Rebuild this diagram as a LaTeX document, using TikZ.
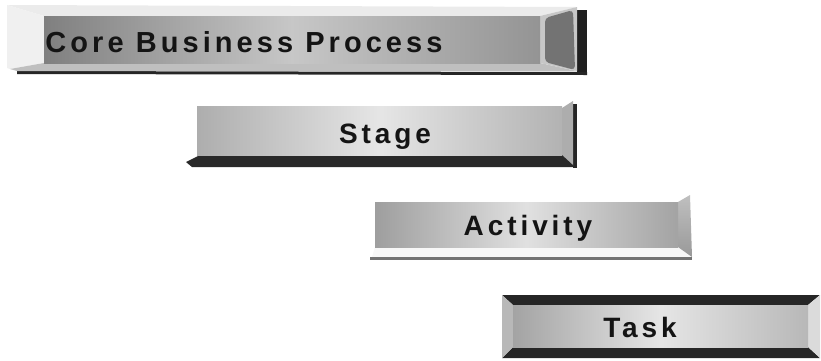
\documentclass[tikz,border=0pt]{standalone}
\usepackage{fontspec}
\newfontfamily\labelfont{Liberation Sans}[LetterSpace=14]
\begin{document}
\begin{tikzpicture}[x=1pt,y=-1pt,
  label/.style={anchor=base,inner sep=0pt,text=black!92,
    font=\labelfont\bfseries\fontsize{28}{30}\selectfont},
  face/.style={draw=none}]
\useasboundingbox (0,0) rectangle (821,360);

% ---------------- Core Business Process: recessed panel ----------------
\fill[black!88] (577,10) -- (587,10) -- (587,75) -- (577,75) -- cycle;
\fill[black!85] (17,71) -- (587,72) -- (587,75) -- (17,74) -- cycle;
\fill[black!8]  (7,5) -- (577,7) -- (540,16) -- (44,16) -- cycle;
\fill[black!6]  (7,5) -- (44,16) -- (44,63) -- (10,69) -- (7,68) -- cycle;
\fill[black!25] (10,69) -- (44,63) -- (540,63) -- (577,71) -- (17,71) -- cycle;
\fill[black!22] (540,16) -- (577,7) -- (577,71) -- (540,63) -- cycle;
\fill[black!55,rounded corners=4pt] (545,18) -- (573,10) -- (575,70) -- (545,62) -- cycle;
\shade[face,left color=black!50,right color=black!42,middle color=black!22]
  (44,16) rectangle (540,63);
\node[label,font=\labelfont\bfseries\fontsize{29}{31}\selectfont] (core) at (244,52) {Core Business Process};

% ---------------- Stage: panel with dark lower bevel ----------------
\fill[black!85] (573,104) -- (577,104) -- (577,168) -- (573,168) -- cycle;
\fill[black!32] (562,108) -- (573,101) -- (573,167) -- (562,155) -- cycle;
\fill[black!84] (200,155) -- (562,155) -- (575,167) -- (192,167) -- (186,162) -- cycle;
\shade[face,left color=black!32,right color=black!30,middle color=black!10]
  (197,106) rectangle (562,155);
\node[label] (stage) at (385,143) {Stage};

% ---------------- Activity: panel with light lower bevel ----------------
\fill[black!3] (375,247) -- (678,247) -- (692,257) -- (372,257) -- cycle;
\fill[black!55] (370,257) rectangle (692,259.5);
\shade[face,top color=black!25,bottom color=black!40] (678,202) -- (690,195) -- (692,257) -- (678,247) -- cycle;
\shade[face,left color=black!38,right color=black!36,middle color=black!12]
  (375,202) rectangle (678,247);
\node[label] (activity) at (528,235) {Activity};

% ---------------- Task: raised bevelled panel ----------------
\fill[black!85] (502,295) -- (820,295) -- (808,305) -- (513,305) -- cycle;
\fill[black!85] (502,358) -- (820,358) -- (808,347) -- (513,347) -- cycle;
\fill[black!28] (502,295) -- (513,305) -- (513,347) -- (502,358) -- cycle;
\fill[black!14] (820,295) -- (808,305) -- (808,347) -- (820,358) -- cycle;
\shade[face,left color=black!36,right color=black!28,middle color=black!10]
  (513,305) rectangle (808,347);
\node[label] (task) at (640,337) {Task};
\end{tikzpicture}
\end{document}
